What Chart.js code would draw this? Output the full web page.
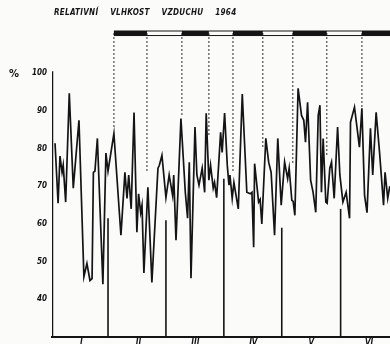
<!DOCTYPE html>
<html>
<head>
<meta charset="utf-8">
<script src="https://cdn.jsdelivr.net/npm/chart.js@4.4.1/dist/chart.umd.min.js"></script>
<style>
  html, body { margin: 0; padding: 0; background: #fbfbfa; }
  #wrap { position: relative; width: 390px; height: 344px; overflow: hidden; }
  #chart { display: block; }
  #title {
    position: absolute; left: 54px; top: 8px;
    font: italic bold 8px "DejaVu Sans Condensed", sans-serif;
    letter-spacing: 0.3px; word-spacing: 9px; color: #151515; white-space: nowrap;
  }
  #pct {
    position: absolute; left: 9px; top: 68px;
    font: bold 10px "DejaVu Sans", sans-serif; color: #151515;
  }
</style>
</head>
<body>
<div id="wrap">
  <canvas id="chart" width="390" height="344"></canvas>
  <div id="title">RELATIVNÍ VLHKOST VZDUCHU 1964</div>
  <div id="pct">%</div>
</div>
<script>
// day of year and relative humidity in %
const days = [1.6, 3.2, 4.2, 5.3, 5.9, 7.2, 9.1, 11.2, 14.2, 16.8, 18.4, 20.0, 21.1, 21.8, 22.6, 23.9,
  26.8, 28.4, 29.5, 32.6, 36.3, 38.4, 39.5, 40.4, 41.7, 43.2, 44.7, 45.6, 46.7, 47.4, 48.4, 50.5,
  52.6, 55.8, 56.5, 57.9, 60.0, 61.7, 63.5, 64.1, 65.3, 67.9, 70.2, 71.4, 72.3, 73.2, 75.3, 76.3,
  77.4, 79.1, 80.4, 81.2, 82.6, 83.5, 84.9, 85.6, 86.7, 88.8, 89.6, 90.9, 92.3, 93.2, 93.7, 94.9,
  95.8, 98.1, 100.2, 102.6, 104.4, 105.3, 106.2, 106.7, 108.8, 109.6, 110.5, 112.6, 114.1, 115.4,
  117.2, 118.9, 120.7, 122.5, 124.1, 124.9, 126.3, 127.0, 127.9, 129.6, 131.4, 132.6, 133.5, 134.6,
  136.2, 137.5, 138.9, 140.2, 141.1, 141.9, 142.8, 144.2, 144.9, 146.3, 147.2, 148.6, 150.4, 151.6,
  153.2, 154.9, 156.7, 157.2, 159.3, 161.9, 163.2, 164.6, 165.9, 167.7, 168.9, 170.7, 172.5, 174.6,
  175.4, 176.8, 177.9];
const humidity = [81.4, 65.5, 78, 73.7, 75.6, 65.8, 94.7, 69.5, 87.5, 46, 49.5, 45, 45.5, 73.7, 74, 82.7,
  44, 78.8, 74, 84, 57, 73.7, 66.8, 73, 64, 89.6, 57.8, 68, 63, 65, 47, 69.7,
  44.5, 74.8, 75.5, 78.2, 67, 73, 67.6, 73, 55.7, 88, 68.4, 61.5, 76.4, 45.6, 85.7, 73,
  70.3, 74.8, 68.4, 89.4, 71.6, 75.6, 69.5, 71, 67, 84.3, 79, 89.4, 75.6, 70.3, 73, 66.8,
  71, 64, 94.5, 68.4, 68, 68.4, 53.8, 76, 65.8, 66.5, 60, 82.7, 76.4, 73.7,
  57, 82.7, 65, 76.4, 72, 74.8, 66.3, 66, 62.3, 96, 88.8, 87.5, 81.7, 92.3,
  71.6, 68.4, 63.1, 88.8, 91.5, 68.4, 82.7, 65.8, 65.5, 74.8, 76.4, 66.8, 85.7, 73,
  65.8, 68.4, 61.5, 87, 91, 80.4, 90.7, 67.6, 63, 85.4, 73, 89.6, 79, 65,
  73.7, 66.8, 70];

// solid month boundary lines and how high they reach
const monthStart = [29.5, 60, 90.5, 121, 152];
const monthLineTop = [61.5, 61, 72, 59, 64];

// dotted period lines hanging from the top band
const periodDays = [32.6, 50, 68.4, 82.6, 95.3, 111, 126.8, 144.7, 163.2];
const periodLineBottom = [85.7, 73.5, 88.5, 83.5, 73.7, 80.4, 75.6, 78.2, 90.7];
const bandLevel = 110.6;

const monthMid = [15.5, 45.5, 75.5, 106, 136.5, 167];
const monthLabels = ['I', 'II', 'III', 'IV', 'V', 'VI'];
const yTicks = [40, 50, 60, 70, 80, 90, 100];

const ink = '#141414';
const tickFont = { family: 'DejaVu Sans Condensed', size: 8, weight: 'bold', style: 'italic' };

const datasets = [];

datasets.push({
  data: days.map((d, i) => ({ x: d, y: humidity[i] })),
  borderColor: ink, borderWidth: 1.7, pointRadius: 0, tension: 0
});

// y axis line, only up to 100 %
datasets.push({
  data: [{ x: 0, y: 30 }, { x: 0, y: 100.5 }],
  borderColor: ink, borderWidth: 2.5, pointRadius: 0
});

monthStart.forEach((d, i) => {
  datasets.push({
    data: [{ x: d, y: 30 }, { x: d, y: monthLineTop[i] }],
    borderColor: ink, borderWidth: 1.6, pointRadius: 0
  });
});

periodDays.forEach((d, i) => {
  datasets.push({
    data: [{ x: d, y: bandLevel }, { x: d, y: periodLineBottom[i] }],
    borderColor: ink, borderWidth: 1.2, borderDash: [1.5, 2.5], pointRadius: 0
  });
});

// band outline
[bandLevel + 0.6, bandLevel - 0.6].forEach(lv => {
  datasets.push({
    data: [{ x: periodDays[0], y: lv }, { x: 180, y: lv }],
    borderColor: ink, borderWidth: 1, pointRadius: 0
  });
});
// black parts of the band
for (let i = 0; i < periodDays.length; i += 2) {
  const end = i + 1 < periodDays.length ? periodDays[i + 1] : 180;
  datasets.push({
    data: [{ x: periodDays[i], y: bandLevel }, { x: end, y: bandLevel }],
    borderColor: ink, borderWidth: 4.5, pointRadius: 0, borderCapStyle: 'butt'
  });
}

new Chart(document.getElementById('chart'), {
  type: 'line',
  data: { datasets },
  options: {
    responsive: false,
    animation: false,
    devicePixelRatio: 1,
    layout: { padding: { top: 28, left: 0, right: 0, bottom: 0 } },
    plugins: { legend: { display: false }, tooltip: { enabled: false } },
    scales: {
      x: {
        type: 'linear', min: 0, max: 178,
        afterFit: s => { s.height = 7; s.paddingLeft = 0; s.paddingRight = 0; },
        afterBuildTicks: s => { s.ticks = monthMid.map(v => ({ value: v })); },
        ticks: {
          color: ink, font: tickFont, padding: 1, maxRotation: 0, autoSkip: false,
          callback: (v, i) => monthLabels[i]
        },
        grid: { display: false, drawTicks: false },
        border: { display: true, color: ink, width: 2 }
      },
      y: {
        min: 30, max: 112,
        afterFit: s => { s.width = 52; s.paddingTop = 0; s.paddingBottom = 0; },
        afterBuildTicks: s => { s.ticks = yTicks.map(v => ({ value: v })); },
        ticks: { color: ink, font: tickFont, padding: 5 },
        grid: { display: false, drawTicks: false },
        border: { display: false }
      }
    }
  }
});
</script>
</body>
</html>
